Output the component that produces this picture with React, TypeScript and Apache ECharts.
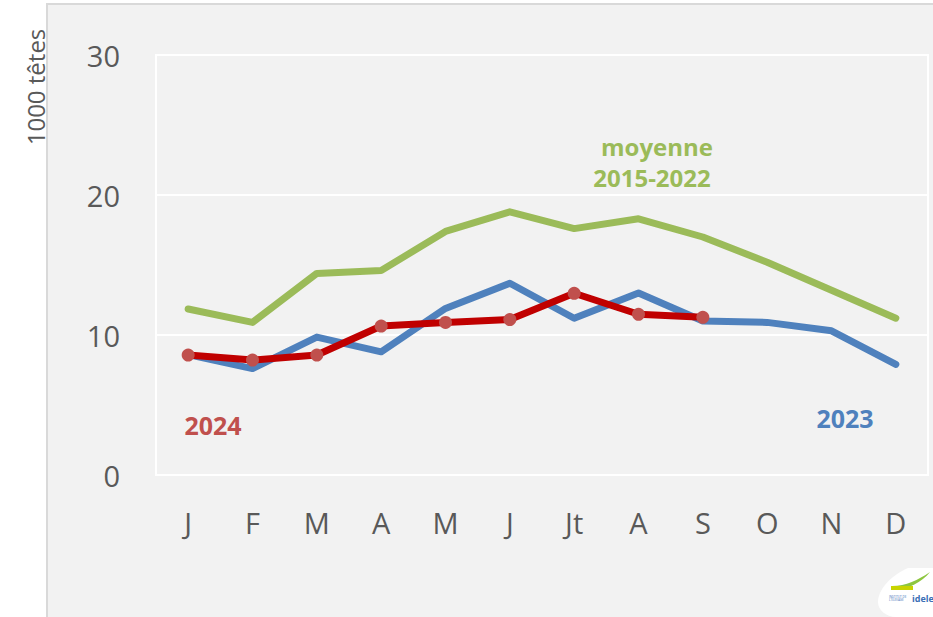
import React, { useEffect, useRef } from "react";
import * as echarts from "echarts";

const months = ["J", "F", "M", "A", "M", "J", "Jt", "A", "S", "O", "N", "D"];
const moyenne = [11.86, 10.9, 14.4, 14.6, 17.4, 18.8, 17.6, 18.3, 17.0, 15.2, 13.2, 11.2];
const y2023 = [8.6, 7.6, 9.85, 8.8, 11.9, 13.7, 11.2, 13.0, 11.0, 10.9, 10.3, 7.9];
const y2024 = [8.57, 8.21, 8.57, 10.64, 10.9, 11.1, 12.98, 11.48, 11.26];
const yTicks = [0, 10, 20, 30];

const blobPath = "M 30 0 C 12 8 0 22 0 34 C 0 42 8 49 18 49 L 55 49 L 55 0 Z";
const swooshPath = "M 0 14 C 14 14 26 8 38 0 C 30 10 16 18 0 18 Z";

export default function App() {
  const ref = useRef<HTMLDivElement>(null);
  useEffect(() => {
    document.body.style.margin = "0";
    echarts.graphic.registerShape("idelBlob", echarts.graphic.extendPath(blobPath, {}));
    echarts.graphic.registerShape("idelSwoosh", echarts.graphic.extendPath(swooshPath, {}));
    const chart = echarts.init(ref.current!, null, { renderer: "svg" });
    const font = "'Open Sans', sans-serif";
    chart.setOption({
      animation: false,
      backgroundColor: "#ffffff",
      graphic: [
        {
          type: "rect",
          z: -10,
          silent: true,
          shape: { x: 47, y: 4, width: 900, height: 620 },
          style: { fill: "#f2f2f2", stroke: "#d9d9d9", lineWidth: 2 },
        },
        {
          type: "text",
          x: 35,
          y: 87,
          rotation: Math.PI / 2,
          style: {
            text: "1000 têtes",
            font: `400 24px ${font}`,
            fill: "#595959",
            align: "center",
            verticalAlign: "middle",
          },
        },
        {
          type: "text",
          x: 657,
          y: 146,
          style: {
            text: "moyenne",
            font: `700 24px ${font}`,
            fill: "#9bbb59",
            align: "center",
            verticalAlign: "middle",
          },
        },
        {
          type: "text",
          x: 652,
          y: 177,
          style: {
            text: "2015-2022",
            font: `700 24px ${font}`,
            fill: "#9bbb59",
            align: "center",
            verticalAlign: "middle",
          },
        },
        {
          type: "text",
          x: 213,
          y: 425,
          style: {
            text: "2024",
            font: `700 25px ${font}`,
            fill: "#c0504d",
            align: "center",
            verticalAlign: "middle",
          },
        },
        {
          type: "text",
          x: 845,
          y: 418,
          style: {
            text: "2023",
            font: `700 25px ${font}`,
            fill: "#4f81bd",
            align: "center",
            verticalAlign: "middle",
          },
        },
        {
          type: "idelBlob",
          x: 878,
          y: 568,
          style: { fill: "#ffffff" },
          silent: true,
        },
        {
          type: "idelSwoosh",
          x: 892,
          y: 572,
          style: { fill: "#8dc63f" },
          silent: true,
        },
        {
          type: "rect",
          shape: { x: 891, y: 586, width: 22, height: 4 },
          style: { fill: "#c8d400" },
          silent: true,
        },
        {
          type: "text",
          x: 912,
          y: 598,
          style: {
            text: "idele",
            font: `700 9px ${font}`,
            fill: "#3b6fb6",
            align: "left",
            verticalAlign: "middle",
          },
        },
        {
          type: "text",
          x: 889,
          y: 598,
          style: {
            text: "INSTITUT DE\nL'ÉLEVAGE",
            font: `400 3px ${font}`,
            fill: "#3b6fb6",
            align: "left",
            verticalAlign: "middle",
          },
        },
      ],
      grid: {
        left: 156,
        right: 5,
        top: 55,
        bottom: 142,
        show: true,
        borderColor: "#ffffff",
        borderWidth: 2,
        backgroundColor: "transparent",
      },
      xAxis: {
        type: "category",
        data: months,
        boundaryGap: true,
        axisLine: { show: false },
        axisTick: { show: false },
        axisLabel: {
          color: "#595959",
          fontFamily: font,
          fontSize: 29,
          fontWeight: 400,
          margin: 33,
        },
      },
      yAxis: {
        type: "value",
        min: 0,
        max: 30,
        interval: 10,
        axisLine: { show: false },
        axisTick: { show: false },
        splitLine: { lineStyle: { color: "#ffffff", width: 2 } },
        axisLabel: {
          color: "#595959",
          fontFamily: font,
          fontSize: 29,
          fontWeight: 400,
          margin: 36,
          formatter: (v: number) => (yTicks.includes(v) ? String(v) : ""),
        },
      },
      series: [
        {
          name: "moyenne 2015-2022",
          type: "line",
          data: moyenne,
          symbol: "none",
          lineStyle: { color: "#9bbb59", width: 7, cap: "round", join: "round" },
          z: 2,
        },
        {
          name: "2023",
          type: "line",
          data: y2023,
          symbol: "none",
          lineStyle: { color: "#4f81bd", width: 7, cap: "round", join: "round" },
          z: 3,
        },
        {
          name: "2024",
          type: "line",
          data: y2024,
          symbol: "circle",
          symbolSize: 13,
          itemStyle: { color: "#c0504d", borderWidth: 0 },
          lineStyle: { color: "#c00000", width: 7, cap: "round", join: "round" },
          z: 4,
        },
      ],
    });
    return () => chart.dispose();
  }, []);
  return <div ref={ref} style={{ width: 933, height: 617 }} />;
}
